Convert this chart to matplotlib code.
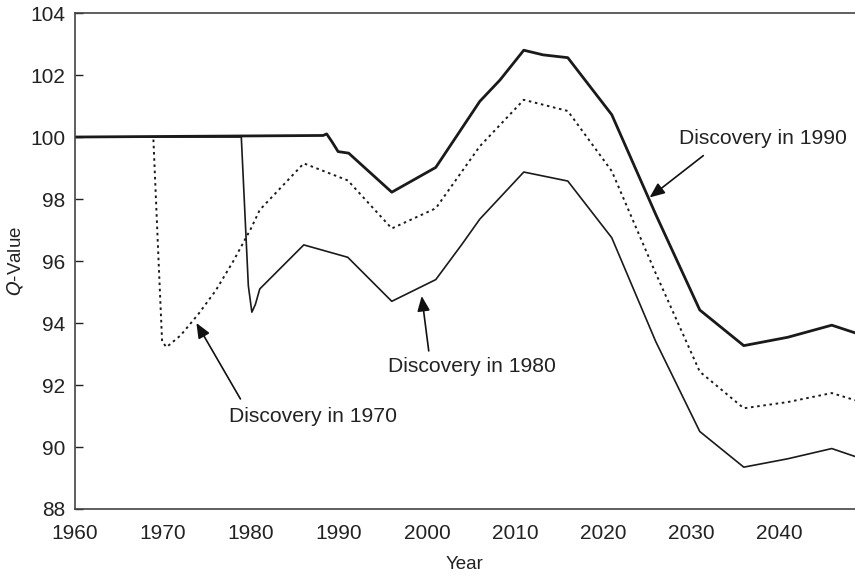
import matplotlib
matplotlib.use("Agg")
import matplotlib.pyplot as plt

plt.rcParams['font.family'] = ['Liberation Sans', 'DejaVu Sans']

# Discovery in 1990 (thick solid)
yr_1990 = [1960, 1988.2, 1988.6, 1989.2, 1989.9, 1991.1, 1996, 2001, 2006, 2008.3, 2011, 2013.2, 2016, 2021, 2026, 2031, 2036, 2041, 2046, 2049]
q_1990 = [100.0, 100.05, 100.1, 99.85, 99.53, 99.48, 98.22, 99.02, 101.15, 101.84, 102.8, 102.65, 102.56, 100.72, 97.5, 94.42, 93.27, 93.54, 93.93, 93.65]

# Discovery in 1970 (dotted)
yr_1970 = [1960, 1968.9, 1969.5, 1969.9, 1970.4, 1972, 1974, 1976, 1978, 1980, 1981, 1986, 1991, 1996, 2001, 2006, 2011, 2016, 2021, 2026, 2031, 2036, 2041, 2046, 2049]
q_1970 = [100.0, 100.0, 96.0, 93.4, 93.22, 93.6, 94.28, 95.05, 96.0, 97.05, 97.65, 99.15, 98.6, 97.05, 97.7, 99.7, 101.2, 100.84, 98.9, 95.6, 92.43, 91.25, 91.45, 91.74, 91.48]

# Discovery in 1980 (thin solid)
yr_1980 = [1960, 1978.9, 1979.7, 1980.1, 1980.5, 1981, 1986, 1991, 1996, 2001, 2004, 2006, 2011, 2016, 2021, 2026, 2031, 2036, 2041, 2046, 2049]
q_1980 = [100.0, 100.0, 95.2, 94.35, 94.6, 95.1, 96.52, 96.12, 94.7, 95.4, 96.55, 97.35, 98.87, 98.58, 96.75, 93.4, 90.5, 89.35, 89.62, 89.95, 89.66]

x_ticks = [1960, 1970, 1980, 1990, 2000, 2010, 2020, 2030, 2040]
y_ticks = [88, 90, 92, 94, 96, 98, 100, 102, 104]

fig = plt.figure(figsize=(8.55, 5.79), dpi=100)
ax = fig.add_axes([0.0877, 0.1209, 0.9123, 0.8566])

lc = '#1a1a1a'
ax.plot(yr_1980, q_1980, color=lc, lw=1.2, solid_joinstyle='round')
ax.plot(yr_1970, q_1970, color=lc, lw=1.4, linestyle=(0, (1.3, 1.9)))
ax.plot(yr_1990, q_1990, color=lc, lw=2.0, solid_joinstyle='round')

ax.set_xlim(1960, 2048.64)
ax.set_ylim(88, 104)
ax.set_xticks(x_ticks)
ax.set_yticks(y_ticks)
ax.tick_params(axis='x', length=0, pad=11, labelsize=15, colors='#222222')
ax.tick_params(axis='y', direction='in', length=6, width=1, pad=7, labelsize=15, colors='#222222')

for s in ['left', 'bottom', 'top']:
    ax.spines[s].set_color('#444444')
    ax.spines[s].set_linewidth(1.2)
ax.spines['right'].set_visible(False)

ax.set_xlabel('Year', fontsize=13.5, color='#222222', labelpad=9)
ax.set_ylabel(r'$Q$-Value', fontsize=13.5, color='#222222', labelpad=4)

arrow = dict(arrowstyle='-|>,head_length=0.9,head_width=0.38', color='#111111', lw=1.2, shrinkA=0, shrinkB=0)
tk = dict(fontsize=15.2, color='#222222', ha='center', va='center')

ax.annotate('', xy=(2025.3, 98.05), xytext=(2031.4, 99.4), arrowprops=arrow)
ax.text(2038.2, 99.94, 'Discovery in 1990', **tk)

ax.annotate('', xy=(1999.4, 94.87), xytext=(2000.2, 93.1), arrowprops=arrow)
ax.text(2005.1, 92.61, 'Discovery in 1980', **tk)

ax.annotate('', xy=(1973.8, 94.0), xytext=(1978.8, 91.55), arrowprops=arrow)
ax.text(1987.1, 90.97, 'Discovery in 1970', **tk)

fig.savefig('out.png', dpi=100)
